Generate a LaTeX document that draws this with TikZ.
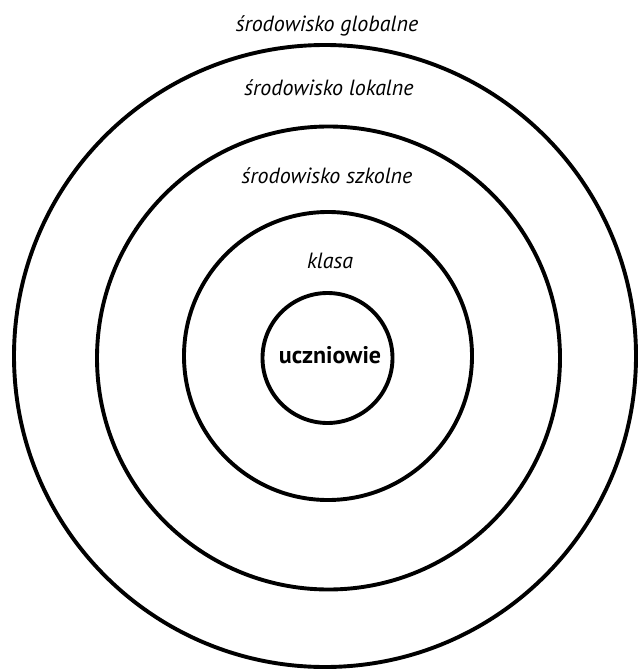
\documentclass[tikz,border=0pt]{standalone}
\usepackage{fontspec}
\setmainfont{PT Sans}
\begin{document}
\begin{tikzpicture}[x=1pt,y=-1pt,
  ring/.style={draw=black, circle, line width=3.9pt, inner sep=0pt, outer sep=0pt},
  lbl/.style={font=\fontsize{22}{26}\selectfont\itshape, inner sep=0pt, anchor=base},
  core/.style={font=\fontsize{24}{28}\selectfont\bfseries, inner sep=0pt, anchor=base}]
\useasboundingbox (0,0) rectangle (639,671);
\node[ring, minimum size=622pt] (global) at (325,356) {};
\node[ring, minimum size=463pt] (local) at (328.5,358) {};
\node[ring, minimum size=288pt] (school) at (328,356) {};
\node[ring, minimum size=130pt] (pupils) at (327.5,358) {};
\node[lbl] (tglobal) at (327,32) {środowisko globalne};
\node[lbl] (tlocal) at (329,96) {środowisko lokalne};
\node[lbl] (tschool) at (327,183) {środowisko szkolne};
\node[lbl] (tclass) at (330,268) {klasa};
\node[core] (tpupils) at (330,363) {uczniowie};
\end{tikzpicture}
\end{document}
